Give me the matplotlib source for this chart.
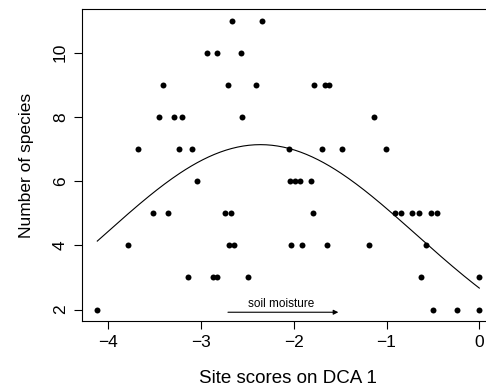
import numpy as np
import matplotlib
matplotlib.use("Agg")
import matplotlib.pyplot as plt

plt.rcParams["font.family"] = ["Liberation Sans", "DejaVu Sans"]

# site scores on DCA axis 1 and species counts
dca1 = [-2.663, -2.346,
        -2.936, -2.825, -2.569,
        -3.407, -2.713, -2.404, -1.785, -1.664, -1.620,
        -3.450, -3.288, -3.202, -2.558, -1.139,
        -3.677, -3.236, -3.101, -2.057, -1.701, -1.480, -1.003,
        -3.040, -2.045, -1.987, -1.929, -1.818,
        -3.515, -3.353, -2.742, -2.672, -1.788, -0.913, -0.844, -0.722, -0.647, -0.525, -0.459,
        -3.791, -2.699, -2.645, -2.030, -1.908, -1.637, -1.187, -0.580,
        -3.139, -2.866, -2.828, -2.491, -0.625, 0.000,
        -4.119, -0.496, -0.240, 0.000]
n_species = [11] * 2 + [10] * 3 + [9] * 6 + [8] * 5 + [7] * 7 + [6] * 5 + [5] * 11 + [4] * 8 + [3] * 6 + [2] * 4

x_ticks = [-4, -3, -2, -1, 0]
y_ticks = [2, 4, 6, 8, 10]

x = np.array(dca1)
y = np.array(n_species, dtype=float)

# poisson glm with quadratic term, fitted by IRLS
X = np.column_stack([np.ones_like(x), x, x ** 2])
beta = np.array([np.log(y.mean()), 0.0, 0.0])
for i in range(100):
    eta = X @ beta
    mu = np.exp(eta)
    z = eta + (y - mu) / mu
    beta = np.linalg.solve(X.T @ (mu[:, None] * X), X.T @ (mu * z))

xs = np.linspace(x.min(), x.max(), 200)
ys = np.exp(beta[0] + beta[1] * xs + beta[2] * xs ** 2)

fig = plt.figure(figsize=(4.86, 3.88), dpi=100)
ax = fig.add_axes([0.1687, 0.1725, 0.849, 0.8042])

ax.plot(x, y, "o", color="black", markersize=4.3, markeredgewidth=0)
ax.plot(xs, ys, color="black", lw=0.8)

ax.annotate("", xy=(-1.49, 1.915), xytext=(-2.74, 1.915),
            arrowprops=dict(arrowstyle="-|>", color="black", lw=0.8, mutation_scale=7))
ax.text(-2.14, 2.16, "soil moisture", ha="center", va="center", fontsize=8.5)

ax.set_xlim(-4.284, 0.165)
ax.set_ylim(1.64, 11.36)
ax.set_xticks(x_ticks)
ax.set_yticks(y_ticks)
ax.tick_params(direction="out", length=5.5, width=0.8, labelsize=12.5, pad=4.5)
for lab in ax.get_yticklabels():
    lab.set_rotation(90)
    lab.set_va("center")

for s in ax.spines.values():
    s.set_linewidth(0.8)

ax.set_xlabel("Site scores on DCA 1", fontsize=13.5)
ax.xaxis.set_label_coords(0.5, -0.1825)
ax.xaxis.label.set_va("center")
ax.set_ylabel("Number of species", fontsize=12.5)
ax.yaxis.set_label_coords(-0.134, 0.5)
ax.yaxis.label.set_va("center")

fig.savefig("out.png", dpi=100)
